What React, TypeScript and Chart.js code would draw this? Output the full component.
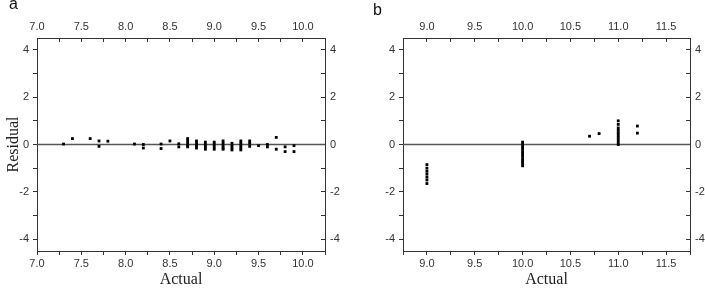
import React, { useEffect, useRef } from "react";
import { Chart, registerables } from "chart.js";

Chart.register(...registerables);

// Panel a: actual vs residual
const actualA = [
  7.3, 7.4, 7.6, 7.7, 7.7, 7.8, 8.1, 8.2, 8.2, 8.4, 8.4, 8.5, 8.6, 8.6,
  8.7, 8.7, 8.7, 8.7, 8.7,
  8.8, 8.8, 8.8, 8.8,
  8.9, 8.9, 8.9, 8.9,
  9.0, 9.0, 9.0, 9.0,
  9.1, 9.1, 9.1, 9.1, 9.1,
  9.2, 9.2, 9.2, 9.2,
  9.3, 9.3, 9.3, 9.3, 9.3,
  9.4, 9.4, 9.4,
  9.5, 9.6, 9.6, 9.7, 9.7, 9.8, 9.8, 9.9, 9.9,
];
const residualA = [
  0.02, 0.25, 0.25, 0.15, -0.08, 0.14, 0.02, 0.0, -0.15, 0.02, -0.17, 0.15, 0.03, -0.1,
  0.25, 0.15, 0.05, -0.05, -0.1,
  0.15, 0.05, -0.05, -0.15,
  0.1, 0.0, -0.1, -0.2,
  0.1, 0.0, -0.1, -0.2,
  0.15, 0.05, -0.05, -0.15, -0.2,
  0.05, -0.05, -0.15, -0.23,
  0.15, 0.05, -0.05, -0.15, -0.23,
  0.15, 0.05, -0.08,
  -0.05, 0.0, -0.1, 0.3, -0.2, -0.1, -0.3, -0.05, -0.3,
];

// Panel b: actual vs residual
const actualB = [
  9.0, 9.0, 9.0, 9.0, 9.0, 9.0, 9.0,
  10.0, 10.0, 10.0, 10.0, 10.0, 10.0, 10.0, 10.0, 10.0, 10.0, 10.0,
  10.7, 10.8,
  11.0, 11.0, 11.0, 11.0, 11.0, 11.0, 11.0, 11.0, 11.0, 11.0,
  11.2, 11.2,
];
const residualB = [
  -0.85, -1.0, -1.13, -1.25, -1.38, -1.5, -1.65,
  0.1, 0.0, -0.1, -0.2, -0.3, -0.4, -0.5, -0.6, -0.7, -0.8, -0.9,
  0.35, 0.46,
  1.0, 0.85, 0.7, 0.6, 0.5, 0.4, 0.3, 0.2, 0.1, 0.0,
  0.78, 0.48,
];

const xRangeA = [7.0, 10.25];
const xRangeB = [8.75, 11.75];
const yRange = [-4.5, 4.5];
const xStep = 0.25;
// y tick positions (labels on even values, unlabeled minor ticks on odd)
const yTickValues = [-4, -3, -2, -1, 0, 1, 2, 3, 4];

const xTitle = "Actual";
const yTitle = "Residual";

const tickFont = { family: "Arial, 'Liberation Sans', sans-serif", size: 11 };
const titleFont = { family: "'Times New Roman', 'Liberation Serif', serif", size: 16 };
const axisColor = "#333";

const xLabel = (v: any) => {
  const n = Number(v);
  return Math.abs(n * 2 - Math.round(n * 2)) < 1e-6 ? n.toFixed(1) : "";
};
const yLabel = (v: any) => {
  const n = Math.round(Number(v));
  return n % 2 === 0 ? String(n) : "";
};

const zeroLine = {
  id: "zeroLine",
  beforeDatasetsDraw(chart: any) {
    const { ctx, chartArea, scales } = chart;
    const y = scales.y.getPixelForValue(0);
    ctx.save();
    ctx.strokeStyle = "#555";
    ctx.lineWidth = 1.5;
    ctx.beginPath();
    ctx.moveTo(chartArea.left, y);
    ctx.lineTo(chartArea.right, y);
    ctx.stroke();
    ctx.restore();
  },
};

function makeConfig(xs: number[], ys: number[], xRange: number[], showYTitle: boolean, leftW: number, rightW: number): any {
  const pts = xs.map((x, i) => ({ x, y: ys[i] }));
  const xBase = (pos: string, tl: number, pad: number, h: number, title: boolean) => ({
    type: "linear",
    axis: "x",
    position: pos,
    min: xRange[0],
    max: xRange[1],
    border: { color: axisColor, width: 1 },
    grid: { drawOnChartArea: false, color: axisColor, tickLength: tl, lineWidth: 1 },
    ticks: {
      stepSize: xStep,
      callback: xLabel,
      font: tickFont,
      color: axisColor,
      padding: pad,
      maxRotation: 0,
      autoSkip: false,
    },
    title: {
      display: title,
      text: xTitle,
      font: titleFont,
      color: "#222",
      padding: { top: 0, bottom: 3 },
    },
    afterFit: (s: any) => {
      s.height = h;
    },
  });
  const yBase = (pos: string, tl: number, pad: number, w: number, title: boolean) => ({
    type: "linear",
    axis: "y",
    position: pos,
    min: yRange[0],
    max: yRange[1],
    border: { color: axisColor, width: 1 },
    grid: { drawOnChartArea: false, color: axisColor, tickLength: tl, lineWidth: 1 },
    afterBuildTicks: (s: any) => {
      s.ticks = yTickValues.map((v) => ({ value: v }));
    },
    ticks: {
      callback: yLabel,
      font: tickFont,
      color: axisColor,
      padding: pad,
      autoSkip: false,
    },
    title: {
      display: title,
      text: yTitle,
      font: titleFont,
      color: "#222",
      padding: { top: 4, bottom: 0 },
    },
    afterFit: (s: any) => {
      s.width = w;
    },
  });
  return {
    type: "scatter",
    data: {
      datasets: [
        {
          data: pts,
          pointStyle: "rect",
          pointRadius: 2,
          pointHoverRadius: 2,
          backgroundColor: "#000",
          borderColor: "#000",
          borderWidth: 0,
          showLine: false,
        },
      ],
    },
    options: {
      responsive: false,
      animation: false,
      devicePixelRatio: 1,
      layout: { padding: 0 },
      plugins: { legend: { display: false }, tooltip: { enabled: false } },
      scales: {
        x: xBase("bottom", 4, 2, 41, true),
        x2: xBase("top", -4, 8, 38, false),
        y: yBase("left", 4, 4, leftW, showYTitle),
        y2: yBase("right", -4, 9, rightW, false),
      },
    },
    plugins: [zeroLine],
  };
}

function Panel(props: { left: number; width: number; label: string; labelTop: number; labelLeft: number; cfg: () => any }) {
  const ref = useRef<HTMLCanvasElement>(null);
  useEffect(() => {
    const chart = new Chart(ref.current as HTMLCanvasElement, props.cfg());
    return () => chart.destroy();
  }, []);
  return (
    <>
      <canvas
        ref={ref}
        width={props.width}
        height={292}
        style={{ position: "absolute", left: props.left, top: 0, width: props.width, height: 292 }}
      />
      <div
        style={{
          position: "absolute",
          left: props.labelLeft,
          top: props.labelTop,
          fontFamily: "Arial, 'Liberation Sans', sans-serif",
          fontSize: 16,
          lineHeight: "16px",
          color: "#111",
        }}
      >
        {props.label}
      </div>
    </>
  );
}

export default function App() {
  return (
    <div style={{ position: "absolute", left: 0, top: 0, width: 705, height: 292, background: "#fff" }}>
      <Panel
        left={0}
        width={352}
        label="a"
        labelTop={-4}
        labelLeft={9}
        cfg={() => makeConfig(actualA, residualA, xRangeA, true, 37, 27)}
      />
      <Panel
        left={352}
        width={353}
        label="b"
        labelTop={1.5}
        labelLeft={373}
        cfg={() => makeConfig(actualB, residualB, xRangeB, false, 51, 15)}
      />
    </div>
  );
}
